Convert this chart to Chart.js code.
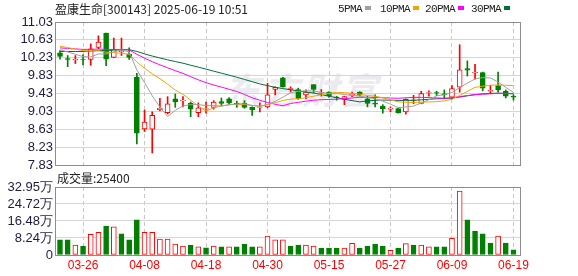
<!DOCTYPE html>
<html>
<head>
<meta charset="utf-8">
<script src="https://cdn.jsdelivr.net/npm/chart.js@4.4.1/dist/chart.umd.min.js"></script>
<style>
  html, body { margin: 0; padding: 0; background: #fff; }
  #wrap { position: relative; width: 578px; height: 276px; overflow: hidden; font-family: "Noto Sans CJK SC", sans-serif; }
  canvas { position: absolute; left: 0; z-index: 1; }
  #priceCanvas { top: 0; }
  #volCanvas { top: 170px; }
  .txt { position: absolute; white-space: nowrap; color: #222; z-index: 2; }
  #title { left: 55px; top: 1px; font-size: 12px; line-height: 16px; }
  #volTitle { left: 57px; top: 170px; font-size: 12px; line-height: 16px; }
  #legend { position: absolute; top: 2px; left: 0; z-index: 2; font-family: "Liberation Mono", monospace; font-size: 11px; line-height: 14px; color: #222; }
  #legend span.item { position: absolute; white-space: nowrap; letter-spacing: -0.6px; }
  #legend i { display: inline-block; width: 6px; height: 4px; margin-left: 3px; vertical-align: 2px; }
  #watermark { position: absolute; left: 224px; top: 68px; font-size: 36px; line-height: 40px; font-weight: bold; font-style: italic; letter-spacing: 3px; color: #ebebef; z-index: 0; }
</style>
</head>
<body>
<div id="wrap">
  <div id="watermark">东方财富</div>
  <div id="title" class="txt">盈康生命[300143] 2025-06-19 10:51</div>
  <div id="legend"></div>
  <div id="volTitle" class="txt">成交量:25400</div>
  <canvas id="priceCanvas" width="578" height="170"></canvas>
  <canvas id="volCanvas" width="578" height="106"></canvas>
</div>
<script>
// 交易日
const dates = ['03-21','03-24','03-25','03-26','03-27','03-28','03-31','04-01','04-02','04-03',
  '04-07','04-08','04-09','04-10','04-11','04-14','04-15','04-16','04-17','04-18',
  '04-21','04-22','04-23','04-24','04-25','04-28','04-29','04-30','05-06','05-07',
  '05-08','05-09','05-12','05-13','05-14','05-15','05-16','05-19','05-20','05-21',
  '05-22','05-23','05-26','05-27','05-28','05-29','05-30','06-03','06-04','06-05',
  '06-06','06-09','06-10','06-11','06-12','06-13','06-16','06-17','06-18','06-19'];
const tickDates = ['03-26','04-08','04-18','04-30','05-15','05-27','06-09','06-19'];

// K线
const openP = [10.34,10.21,10.18,10.19,10.19,10.46,10.78,10.24,10.36,10.31,
  9.79,8.64,8.63,9.07,9.00,9.31,9.27,9.21,9.00,9.08,
  9.12,9.25,9.31,9.21,9.21,9.12,9.12,9.13,9.52,9.78,
  9.52,9.52,9.40,9.63,9.44,9.46,9.35,9.30,9.39,9.46,
  9.31,9.21,9.15,9.08,9.09,9.02,9.28,9.21,9.44,9.45,
  9.42,9.35,9.57,9.99,9.89,9.90,9.48,9.61,9.48,9.37];
const highP = [10.39,10.28,10.28,10.30,10.54,10.72,10.78,10.67,10.67,10.45,
  9.88,9.06,9.02,9.32,9.36,9.42,9.36,9.24,9.22,9.24,
  9.27,9.33,9.34,9.26,9.27,9.13,9.22,9.66,9.58,9.79,
  9.58,9.55,9.51,9.63,9.52,9.47,9.37,9.37,9.46,9.47,
  9.37,9.40,9.18,9.13,9.10,9.31,9.39,9.48,9.49,9.48,
  9.51,9.61,10.52,10.16,10.08,9.91,9.61,9.91,9.51,9.40];
const lowP = [10.20,10.03,10.10,10.07,10.06,10.43,10.05,10.23,10.28,10.19,
  8.30,8.58,8.10,9.04,8.97,9.12,9.13,8.91,8.91,8.99,
  9.08,9.15,9.18,9.12,9.10,8.94,9.02,9.11,9.40,9.57,
  9.46,9.30,9.31,9.45,9.37,9.34,9.28,9.18,9.36,9.37,
  9.13,9.13,8.99,9.02,8.99,8.97,9.20,9.20,9.37,9.38,
  9.31,9.31,9.46,9.82,9.75,9.49,9.43,9.46,9.33,9.28];
const closeP = [10.26,10.19,10.20,10.18,10.43,10.58,10.20,10.42,10.38,10.24,
  8.54,8.79,8.94,9.10,9.20,9.24,9.28,9.08,9.11,9.09,
  9.24,9.21,9.22,9.19,9.12,9.06,9.13,9.40,9.57,9.58,
  9.54,9.31,9.46,9.52,9.45,9.38,9.33,9.36,9.41,9.39,
  9.21,9.19,9.09,9.10,9.00,9.30,9.29,9.43,9.45,9.44,
  9.40,9.54,9.96,9.95,9.91,9.55,9.50,9.51,9.37,9.35];

// 均线
const ma5 = [10.41,10.36,10.31,10.255,10.25,10.314,10.316,10.362,10.402,10.364,
  9.956,9.674,9.378,9.122,8.914,9.054,9.152,9.18,9.182,9.16,
  9.16,9.15,9.178,9.194,9.20,9.164,9.144,9.18,9.256,9.348,
  9.444,9.48,9.492,9.482,9.456,9.424,9.428,9.408,9.386,9.374,
  9.34,9.312,9.258,9.192,9.114,9.128,9.148,9.216,9.29,9.378,
  9.402,9.452,9.558,9.662,9.756,9.786,9.778,9.686,9.566,9.454];
const ma10 = [10.49,10.457,10.424,10.39,10.381,10.387,10.355,10.345,10.331,10.307,
  10.135,9.995,9.87,9.762,9.639,9.505,9.413,9.279,9.152,9.037,
  9.107,9.151,9.179,9.188,9.18,9.162,9.147,9.179,9.225,9.274,
  9.304,9.312,9.336,9.369,9.402,9.434,9.454,9.45,9.434,9.415,
  9.382,9.37,9.333,9.289,9.244,9.234,9.23,9.237,9.241,9.246,
  9.265,9.30,9.387,9.476,9.567,9.594,9.615,9.622,9.614,9.605];
const ma20 = [10.45,10.439,10.428,10.417,10.418,10.426,10.416,10.416,10.415,10.406,
  10.307,10.221,10.142,10.071,10.005,9.941,9.879,9.807,9.736,9.672,
  9.621,9.573,9.525,9.475,9.41,9.334,9.28,9.229,9.189,9.156,
  9.206,9.232,9.258,9.279,9.291,9.298,9.301,9.315,9.33,9.345,
  9.343,9.341,9.335,9.329,9.323,9.334,9.342,9.344,9.338,9.331,
  9.324,9.335,9.36,9.383,9.406,9.414,9.423,9.435,9.433,9.431];
const ma30 = [10.37,10.37,10.37,10.37,10.38,10.39,10.39,10.40,10.41,10.41,
  10.371,10.317,10.268,10.225,10.184,10.145,10.108,10.063,10.02,9.976,
  9.93,9.885,9.84,9.795,9.745,9.695,9.645,9.605,9.57,9.539,
  9.515,9.486,9.462,9.44,9.407,9.367,9.338,9.303,9.27,9.242,
  9.264,9.278,9.283,9.282,9.275,9.277,9.277,9.289,9.30,9.312,
  9.317,9.327,9.352,9.378,9.404,9.421,9.433,9.436,9.43,9.422];

// 成交量 (手)
const volume = [73000,73000,48500,43600,100000,110000,140500,136000,102000,73000,
  171000,110000,110000,77500,77500,53000,43600,48500,39000,35000,
  43600,39000,39000,39000,53000,39000,39000,92000,73000,73000,
  43600,48500,48500,43600,34000,34000,34000,34000,56500,34000,
  43600,53000,43600,23000,34000,55000,48500,48500,39000,39000,
  39000,81000,310000,170000,116000,102000,58000,92000,58000,25400];

const priceTicks = [7.83, 8.23, 8.63, 9.03, 9.43, 9.83, 10.23, 10.63, 11.03];
const volTicks = [0, 82400, 164800, 247200, 329500];
const volTickLabels = ['0', '8.24万', '16.48万', '24.72万', '32.95万'];

const maNames = ['5PMA', '10PMA', '20PMA', '30PMA'];
const maColors = ['#a0a0a0', '#f5a300', '#ff00ff', '#00703a'];

const RED = '#ff0000';
const GREEN = '#008000';
const xMin = -0.65, xMax = 59.98;
const tickIdx = tickDates.map(d => dates.indexOf(d));

// 图例
const legendX = [338, 380, 425, 471];
const legendEl = document.getElementById('legend');
maNames.forEach((name, k) => {
    const s = document.createElement('span');
    s.className = 'item';
    s.style.left = legendX[k] + 'px';
    s.innerHTML = name + '<i style="background:' + maColors[k] + '"></i>';
    legendEl.appendChild(s);
});

// 边框
const framePlugin = {
    id: 'frame',
    afterDraw(chart) {
        const { ctx, chartArea: a } = chart;
        ctx.save();
        ctx.strokeStyle = '#8c8c8c';
        ctx.lineWidth = 1;
        ctx.strokeRect(Math.round(a.left) + 0.5, Math.round(a.top) + 0.5,
            Math.round(a.right - a.left) - 1, Math.round(a.bottom - a.top));
        ctx.restore();
    }
};

const candleUp = closeP.map((c, i) => c >= openP[i]);
const volUp = closeP.map((c, i) => i === 0 ? candleUp[0] : c >= closeP[i - 1]);

const tickFont = { family: '"Liberation Sans", Arial, sans-serif', size: 13 };

function xScale(showLabels) {
    return {
        type: 'linear', min: xMin, max: xMax, offset: false,
        grid: { offset: false, color: '#c8c8c8', drawTicks: false },
        border: { display: false, dash: [4, 3] },
        ticks: showLabels
            ? { color: RED, font: { family: tickFont.family, size: 12 }, padding: 3, autoSkip: false, maxRotation: 0,
                callback: v => dates[v] }
            : { display: false },
        afterBuildTicks: s => { s.ticks = tickIdx.map(v => ({ value: v })); },
        afterFit: s => { s.height = showLabels ? 21 : 0; s.paddingLeft = 0; s.paddingRight = 0; }
    };
}

function yScale(min, max, ticks, labelOf) {
    return {
        min: min, max: max, beginAtZero: false,
        grid: { color: '#d6d6d6', drawTicks: false },
        border: { display: false },
        ticks: { color: '#1c1c40', font: tickFont, padding: 2, autoSkip: false, callback: labelOf },
        afterBuildTicks: s => { s.ticks = ticks.map(v => ({ value: v })); },
        afterFit: s => { s.width = 55; s.paddingTop = 0; s.paddingBottom = 0; }
    };
}

new Chart(document.getElementById('priceCanvas'), {
    type: 'bar',
    data: {
        datasets: [
            ...maNames.map((name, k) => ({
                type: 'line',
                label: name,
                data: [ma5, ma10, ma20, ma30][k].map((v, i) => ({ x: i, y: v })),
                borderColor: maColors[k],
                borderWidth: 1,
                pointRadius: 0,
                tension: 0,
                order: 1
            })),
            {
                label: 'body',
                data: openP.map((o, i) => ({ x: i, y: [o, closeP[i]] })),
                backgroundColor: candleUp.map(u => u ? '#ffffff' : GREEN),
                borderColor: candleUp.map(u => u ? RED : GREEN),
                borderWidth: 1,
                borderSkipped: false,
                barThickness: 5,
                grouped: false,
                order: 2
            },
            {
                label: 'wick',
                data: lowP.map((l, i) => ({ x: i, y: [l, highP[i]] })),
                backgroundColor: candleUp.map(u => u ? RED : GREEN),
                borderWidth: 0,
                barThickness: 1,
                grouped: false,
                order: 3
            }
        ]
    },
    options: {
        responsive: false,
        animation: false,
        events: [],
        layout: { padding: { top: 22, right: 57, bottom: 5, left: 0 } },
        plugins: { legend: { display: false }, tooltip: { enabled: false } },
        scales: {
            x: xScale(false),
            y: yScale(7.83, 11.03, priceTicks, v => v.toFixed(2))
        }
    },
    plugins: [framePlugin]
});

new Chart(document.getElementById('volCanvas'), {
    type: 'bar',
    data: {
        datasets: [{
            label: '成交量',
            data: volume.map((v, i) => ({ x: i, y: v })),
            backgroundColor: volUp.map(u => u ? '#ffffff' : GREEN),
            borderColor: volUp.map(u => u ? RED : GREEN),
            borderWidth: 1,
            borderSkipped: false,
            barThickness: 5
        }]
    },
    options: {
        responsive: false,
        animation: false,
        events: [],
        layout: { padding: { top: 17, right: 57, bottom: 0, left: 0 } },
        plugins: { legend: { display: false }, tooltip: { enabled: false } },
        scales: {
            x: xScale(true),
            y: yScale(0, 329500, volTicks, (v, i) => volTickLabels[i])
        }
    },
    plugins: [framePlugin]
});
</script>
</body>
</html>
